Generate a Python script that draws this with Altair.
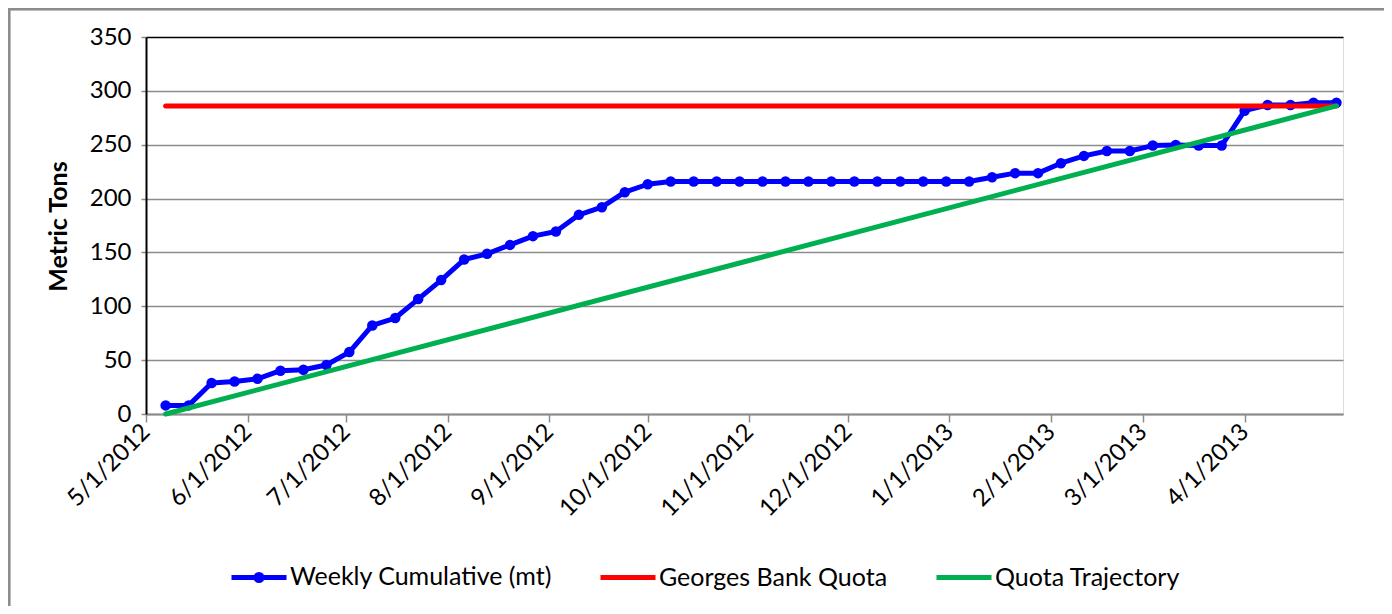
import altair as alt
import pandas as pd

# ---- data ----
week_dates = [
    "2012-05-07", "2012-05-14", "2012-05-21", "2012-05-28",
    "2012-06-04", "2012-06-11", "2012-06-18", "2012-06-25",
    "2012-07-02", "2012-07-09", "2012-07-16", "2012-07-23", "2012-07-30",
    "2012-08-06", "2012-08-13", "2012-08-20", "2012-08-27",
    "2012-09-03", "2012-09-10", "2012-09-17", "2012-09-24",
    "2012-10-01", "2012-10-08", "2012-10-15", "2012-10-22", "2012-10-29",
    "2012-11-05", "2012-11-12", "2012-11-19", "2012-11-26",
    "2012-12-03", "2012-12-10", "2012-12-17", "2012-12-24", "2012-12-31",
    "2013-01-07", "2013-01-14", "2013-01-21", "2013-01-28",
    "2013-02-04", "2013-02-11", "2013-02-18", "2013-02-25",
    "2013-03-04", "2013-03-11", "2013-03-18", "2013-03-25",
    "2013-04-01", "2013-04-08", "2013-04-15", "2013-04-22", "2013-04-29",
]
weekly_cumulative = [
    8, 8, 28.8, 30.2, 32.7, 40.2, 41.1, 45.5, 57.5, 82.2, 89.1, 106.7,
    124.3, 143.4, 148.7, 157.0, 165.1, 169.4, 184.9, 192.0, 205.9, 213.3,
    215.8, 215.8, 215.8, 215.8, 215.8, 215.8, 215.8, 215.8, 215.8, 215.8,
    215.8, 215.8, 215.8, 215.8,
    219.8, 223.6, 223.6, 232.8, 239.6, 244.2, 244.2, 249.2, 249.8, 249.2,
    249.2, 281.6, 286.9, 286.9, 289.0, 289.0,
]
quota_value = 286
trajectory_start = 0

series_names = ["Weekly Cumulative (mt)", "Georges Bank Quota", "Quota Trajectory"]
series_colors = ["#0000FF", "#FF0000", "#00B050"]
y_ticks = [0, 50, 100, 150, 200, 250, 300, 350]
x_tick_months = [(2012, m) for m in range(5, 13)] + [(2013, m) for m in range(1, 5)]

# ---- tables ----
weekly_df = pd.DataFrame({"date": week_dates, "value": weekly_cumulative,
                          "series": series_names[0]})
quota_df = pd.DataFrame({"date": [week_dates[0], week_dates[-1]],
                         "value": [quota_value, quota_value],
                         "series": series_names[1]})
traj_df = pd.DataFrame({"date": [week_dates[0], week_dates[-1]],
                        "value": [trajectory_start, quota_value],
                        "series": series_names[2]})
legend_df = pd.DataFrame({"date": [week_dates[0]] * 3, "value": [0] * 3,
                          "series": series_names})

FONT = "Lato"
GRID = "#8c8c8c"

x_enc = alt.X(
    "date:T",
    scale=alt.Scale(type="utc",
                    domain=[alt.DateTime(year=2012, month=5, date=1, utc=True),
                            alt.DateTime(year=2013, month=5, date=1, utc=True)]),
    axis=alt.Axis(
        values=[alt.DateTime(year=y, month=m, date=1, utc=True) for y, m in x_tick_months],
        format="%-m/%-d/%Y", labelAngle=-45, labelAlign="right", labelBaseline="middle",
        labelFontSize=24, labelFont=FONT, labelColor="black", labelPadding=6,
        tickSize=8, tickColor=GRID, tickWidth=1.5, domainColor=GRID, domainWidth=2,
        grid=False, title=None, labelOverlap=False,
    ),
)
y_enc = alt.Y(
    "value:Q",
    scale=alt.Scale(domain=[0, 350], nice=False, zero=True),
    axis=alt.Axis(
        values=y_ticks, title="Metric Tons", titleFont=FONT, titleFontSize=25,
        titleFontWeight="bold", titleColor="black", titleX=-88, titleY=189,
        titleBaseline="middle", titleAlign="center", titleAngle=270,
        labelFontSize=24, labelFont=FONT, labelColor="black", labelPadding=10,
        tickSize=5, tickColor=GRID, tickWidth=1.5, domainColor="black", domainWidth=2,
        grid=True, gridWidth=1.5,
        gridColor=alt.condition("datum.value === 350", alt.value("black"), alt.value(GRID)),
    ),
)

weekly_line = alt.Chart(weekly_df).mark_line(
    color=series_colors[0], strokeWidth=5, strokeCap="round", strokeJoin="round"
).encode(x=x_enc, y=y_enc)
weekly_pts = alt.Chart(weekly_df).mark_circle(
    color=series_colors[0], size=110, opacity=1
).encode(x=x_enc, y=y_enc)
quota_line = alt.Chart(quota_df).mark_line(
    color=series_colors[1], strokeWidth=5, strokeCap="round"
).encode(x=x_enc, y=y_enc)
traj_line = alt.Chart(traj_df).mark_line(
    color=series_colors[2], strokeWidth=5, strokeCap="round"
).encode(x=x_enc, y=y_enc)

line_dot = "M-1,0L1,0M-0.11,0A0.11,0.11,0,1,1,0.11,0A0.11,0.11,0,1,1,-0.11,0Z"
line_only = "M-1,0L1,0"
legend_def = alt.Legend(
    title=None, orient="none", legendX=83, legendY=510, direction="horizontal",
    symbolSize=3025, symbolStrokeWidth=5, symbolOpacity=1,
    symbolFillColor="black", symbolStrokeColor="black",
    labelFont=FONT, labelFontSize=25, labelColor="black", labelLimit=500,
    labelOffset=1, columnPadding=38, padding=0,
)
color_scale = alt.Scale(domain=series_names, range=series_colors)
legend_layer = alt.Chart(legend_df).mark_point(filled=True, opacity=0).encode(
    x=x_enc, y=y_enc,
    fill=alt.Fill("series:N", scale=color_scale, legend=legend_def),
    stroke=alt.Stroke("series:N", scale=color_scale, legend=legend_def),
    shape=alt.Shape("series:N", scale=alt.Scale(domain=series_names,
                                                range=[line_dot, line_only, line_only]),
                    legend=legend_def),
)

outer_border = alt.Chart(legend_df).mark_rect(
    fill=None, stroke="#8c8c8c", strokeWidth=2.5
).encode(x=alt.value(-137), x2=alt.value(1400), y=alt.value(-28), y2=alt.value(700))

chart = alt.layer(
    outer_border, weekly_line, weekly_pts, quota_line, traj_line, legend_layer
).properties(
    width=1197, height=377,
    autosize=alt.AutoSizeParams(type="none"),
    padding={"left": 138, "top": 29, "right": 41, "bottom": 192},
).configure_view(
    stroke="black", strokeWidth=2, fill="white"
).configure(background="white")

chart.save("out.html", embed_options={"renderer": "svg", "actions": False})
